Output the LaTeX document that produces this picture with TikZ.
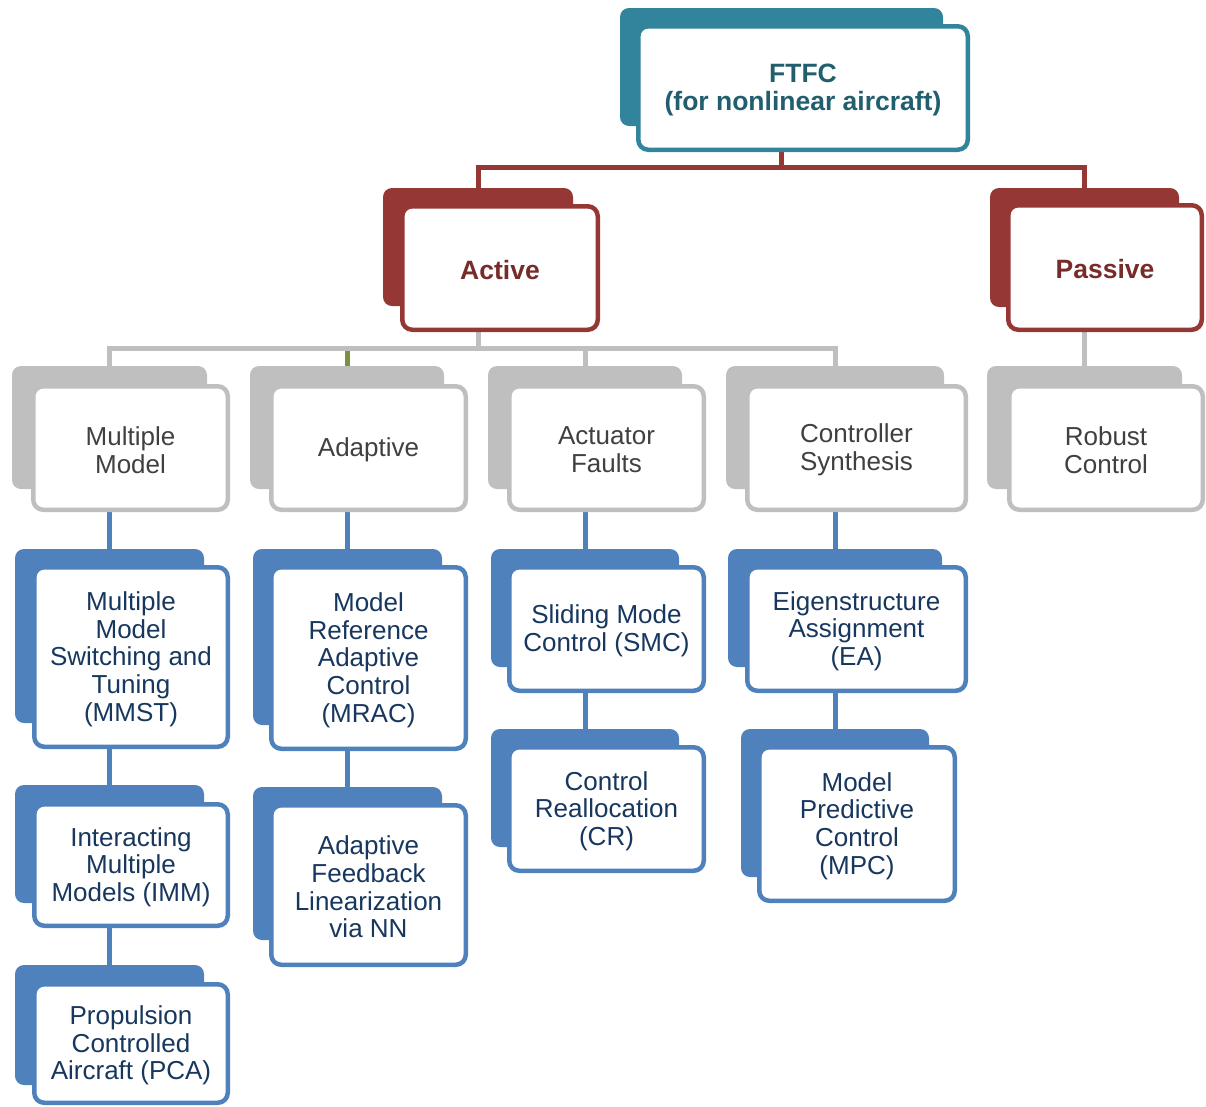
\documentclass[tikz,border=0pt]{standalone}
\usepackage{fontspec}
\setmainfont{Liberation Sans}
\usetikzlibrary{backgrounds}

\definecolor{tealC}{HTML}{31849B}
\definecolor{tealT}{HTML}{215E6E}
\definecolor{redC}{HTML}{953735}
\definecolor{redT}{HTML}{772C2A}
\definecolor{grayC}{HTML}{BFBFBF}
\definecolor{grayT}{HTML}{404040}
\definecolor{blueC}{HTML}{4F81BD}
\definecolor{blueT}{HTML}{17375E}
\definecolor{greenC}{HTML}{77933C}

\tikzset{
  backbox/.style={rectangle, rounded corners=9pt, inner sep=0pt, draw=none, fill=#1},
  frontbox/.style={rectangle, rounded corners=10pt, inner sep=0pt, fill=white,
    draw=#1, line width=4.5pt},
  tealbox/.style={frontbox=tealC},
  redbox/.style={frontbox=redC},
  graybox/.style={frontbox=grayC},
  bluebox/.style={frontbox=blueC},
  labeltext/.style={inner sep=0pt, align=center},
  tealboxtext/.style={labeltext, text=tealT, font=\fontsize{26.5}{27.7}\selectfont\bfseries},
  redboxtext/.style={labeltext, text=redT, font=\fontsize{26.5}{27.7}\selectfont\bfseries},
  grayboxtext/.style={labeltext, text=grayT, font=\fontsize{26}{27.7}\selectfont},
  blueboxtext/.style={labeltext, text=blueT, font=\fontsize{26}{27.7}\selectfont},
  link/.style={line width=5pt, draw=#1},
}

% back panel: name, colour, x0, y0, x1, y1
\newcommand\backpanel[6]{%
  \node[backbox=#2, minimum width={#5-#3}, minimum height={#6-#4}]
    (#1) at ({(#3+#5)/2},{(#4+#6)/2}) {};}
% front panel with its label: name, style, x0, y0, x1, y1, text
\newcommand\frontpanel[7]{%
  \node[#2, minimum width={#5-#3-4.5}, minimum height={#6-#4-4.5}]
    (#1) at ({(#3+#5)/2},{(#4+#6)/2}) {};
  \node[#2text] (#1-text) at ([yshift=-2pt]#1.center) {#7};}

\begin{document}
\begin{tikzpicture}[x=1pt, y=-1pt]
\useasboundingbox (0,0) rectangle (1206,1106);

% root
\backpanel{ftfcb}{tealC}{620}{8}{943}{126}
\frontpanel{ftfc}{tealbox}{636}{24}{970}{152}{FTFC\\(for nonlinear aircraft)}

% active / passive
\backpanel{activeb}{redC}{383}{188}{573}{306}
\frontpanel{active}{redbox}{400}{204}{600}{332}{Active}
\backpanel{passiveb}{redC}{990}{188}{1179}{307}
\frontpanel{passive}{redbox}{1006}{203}{1204}{332}{Passive}

% categories
\backpanel{mmb}{grayC}{12}{366}{207}{489}
\frontpanel{mm}{graybox}{31}{384}{230}{512}{Multiple\\Model}
\backpanel{adb}{grayC}{250}{366}{444}{489}
\frontpanel{ad}{graybox}{269}{384}{468}{512}{Adaptive}
\backpanel{afb}{grayC}{488}{366}{682}{489}
\frontpanel{af}{graybox}{507}{384}{706}{512}{Actuator\\Faults}
\backpanel{csb}{grayC}{726}{366}{944}{489}
\frontpanel{cs}{graybox}{745}{384}{968}{512}{Controller\\Synthesis}
\backpanel{rcb}{grayC}{987}{366}{1182}{489}
\frontpanel{rc}{graybox}{1007}{384}{1205}{512}{Robust\\Control}

% methods
\backpanel{mmstb}{blueC}{15}{549}{204}{723}
\frontpanel{mmst}{bluebox}{32}{565}{230}{749}{Multiple\\Model\\Switching and\\Tuning\\(MMST)}
\backpanel{immb}{blueC}{15}{785}{204}{903}
\frontpanel{imm}{bluebox}{32}{802}{230}{928}{Interacting\\Multiple\\Models (IMM)}
\backpanel{pcab}{blueC}{15}{965}{204}{1085}
\frontpanel{pca}{bluebox}{32}{982}{230}{1105}{Propulsion\\Controlled\\Aircraft (PCA)}

\backpanel{mracb}{blueC}{253}{549}{442}{725}
\frontpanel{mrac}{bluebox}{269}{565}{468}{751}{Model\\Reference\\Adaptive\\Control\\(MRAC)}
\backpanel{aflb}{blueC}{253}{787}{442}{940}
\frontpanel{afl}{bluebox}{269}{803}{468}{967}{Adaptive\\Feedback\\Linearization\\via NN}

\backpanel{smcb}{blueC}{491}{549}{679}{667}
\frontpanel{smc}{bluebox}{507}{565}{706}{693}{Sliding Mode\\Control (SMC)}
\backpanel{crb}{blueC}{491}{729}{679}{847}
\frontpanel{cr}{bluebox}{507}{745}{706}{873}{Control\\Reallocation\\(CR)}

\backpanel{eab}{blueC}{728}{549}{942}{667}
\frontpanel{ea}{bluebox}{745}{565}{968}{693}{Eigenstructure\\Assignment\\(EA)}
\backpanel{mpcb}{blueC}{741}{729}{929}{877}
\frontpanel{mpc}{bluebox}{757}{745}{957}{903}{Model\\Predictive\\Control\\(MPC)}

% connectors, drawn underneath the panels
\coordinate (redbus) at (0,167);
\coordinate (graybus) at (0,348);
\begin{pgfonlayer}{background}
  \draw[link=redC] (ftfcb.center) -- (ftfcb.center |- redbus);
  \draw[link=redC] (activeb.center) |- (passiveb.center |- redbus) -- (passiveb.center);

  \draw[link=greenC] (adb.center) -- (adb.center |- graybus);
  \draw[link=grayC] (activeb.center) -- (activeb.center |- graybus);
  \draw[link=grayC] (mmb.center) |- (csb.center |- graybus) -- (csb.center);
  \draw[link=grayC] (afb.center) -- (afb.center |- graybus);
  \draw[link=grayC] (passiveb.center) -- (rcb.center);

  \draw[link=blueC] (mmb.center) -- (mmb.center |- pcab.center);
  \draw[link=blueC] (adb.center) -- (adb.center |- aflb.center);
  \draw[link=blueC] (afb.center) -- (afb.center |- crb.center);
  \draw[link=blueC] (csb.center) -- (csb.center |- mpcb.center);
\end{pgfonlayer}
\end{tikzpicture}
\end{document}
